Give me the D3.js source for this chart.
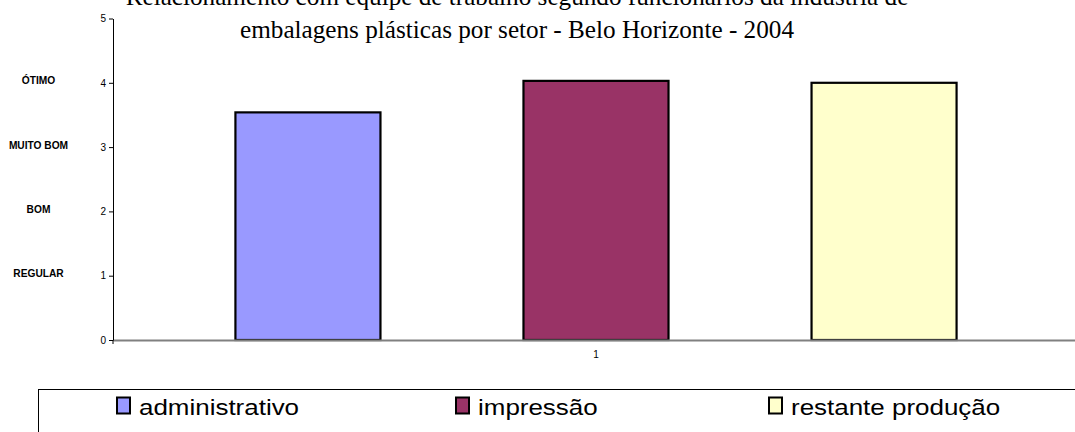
<!DOCTYPE html>
<html>
<head>
<meta charset="utf-8">
<script src="https://cdn.jsdelivr.net/npm/d3@7/dist/d3.min.js"></script>
<style>
  html, body { margin: 0; padding: 0; background: #fff; }
  svg { display: block; }
</style>
</head>
<body>
<svg id="chart" width="1075" height="432"></svg>
<script>
// Average rating per sector (scale 0–5)
const categories = ["1"];
const seriesNames = ["administrativo", "impressão", "restante produção"];
const seriesValues = [3.54, 4.03, 4.00];
const seriesColors = ["#9999ff", "#993366", "#ffffcc"];
const yTicks = [0, 1, 2, 3, 4, 5];
const ratingLabels = ["REGULAR", "BOM", "MUITO BOM", "ÓTIMO"];
const ratingLevels = [1, 2, 3, 4];
const titleLines = [
  "Relacionamento com equipe de trabalho segundo funcionários da indústria de",
  "embalagens plásticas por setor - Belo Horizonte - 2004"
];

const svg = d3.select("#chart");
const plot = { left: 113, right: 1079, top: 18.5, bottom: 340 };

const y = d3.scaleLinear().domain([0, 5]).range([plot.bottom, plot.top]);
const x = d3.scaleBand().domain(categories).range([plot.left, plot.right]);
const xs = d3.scaleBand().domain(seriesNames)
  .range([0, x.bandwidth()]).paddingInner(0.4965).paddingOuter(0.425);

// Title
svg.append("g").selectAll("text").data(titleLines).join("text")
  .attr("x", 517).attr("y", (d, i) => 4.5 + i * 33.5)
  .attr("text-anchor", "middle")
  .attr("font-family", "'Liberation Serif', 'Times New Roman', serif")
  .attr("font-size", 25.2).attr("fill", "#000")
  .text(d => d);

// Bars
const rows = seriesNames.map((s, i) => ({ series: s, value: seriesValues[i], color: seriesColors[i] }));
svg.append("g").selectAll("rect").data(rows).join("rect")
  .attr("x", d => x(categories[0]) + xs(d.series))
  .attr("y", d => y(d.value))
  .attr("width", xs.bandwidth())
  .attr("height", d => y(0) - y(d.value))
  .attr("fill", d => d.color)
  .attr("stroke", "#000").attr("stroke-width", 2.2);

// X axis (grey baseline)
const xAxis = svg.append("g").attr("transform", `translate(0,${plot.bottom})`)
  .call(d3.axisBottom(x).tickSize(0).tickPadding(11));
xAxis.select(".domain").attr("stroke", "#808080").attr("stroke-width", 2);
xAxis.selectAll("text").attr("font-family", "Arial, 'Liberation Sans', sans-serif")
  .attr("font-size", 10).attr("fill", "#000");
svg.append("line").attr("x1", plot.left).attr("x2", plot.left)
  .attr("y1", plot.bottom).attr("y2", plot.bottom + 4).attr("stroke", "#000");

// Y axis
const yAxis = svg.append("g").attr("transform", `translate(${plot.left},0)`)
  .call(d3.axisLeft(y).tickValues(yTicks).tickFormat(d3.format("d")).tickSize(4).tickSizeOuter(0).tickPadding(3));
yAxis.select(".domain").attr("stroke", "#000");
yAxis.selectAll(".tick line").attr("stroke", "#000");
yAxis.selectAll("text").attr("font-family", "Arial, 'Liberation Sans', sans-serif")
  .attr("font-size", 10).attr("fill", "#000");

// Rating names beside the scale
svg.append("g").selectAll("text").data(ratingLabels).join("text")
  .attr("x", 38.5).attr("y", (d, i) => y(ratingLevels[i]) + 1.5)
  .attr("text-anchor", "middle")
  .attr("font-family", "Arial, 'Liberation Sans', sans-serif")
  .attr("font-weight", "bold").attr("font-size", 10.2).attr("fill", "#000")
  .text(d => d);

// Legend
const legend = svg.append("g");
legend.append("rect").attr("x", 38.5).attr("y", 389.5).attr("width", 1100).attr("height", 100)
  .attr("fill", "#fff").attr("stroke", "#000").attr("stroke-width", 1);
const legendX = [116, 455, 768];
const items = legend.selectAll("g.item").data(rows).join("g").attr("class", "item")
  .attr("transform", (d, i) => `translate(${legendX[i]},397)`);
items.append("rect").attr("x", 1).attr("y", 0.5).attr("width", 13).attr("height", 16)
  .attr("fill", d => d.color).attr("stroke", "#000").attr("stroke-width", 2);
items.append("text")
  .attr("transform", "translate(23,18) scale(1.18,1)")
  .attr("font-family", "Arial, 'Liberation Sans', sans-serif")
  .attr("font-size", 22).attr("fill", "#000")
  .text(d => d.series);
</script>
</body>
</html>
